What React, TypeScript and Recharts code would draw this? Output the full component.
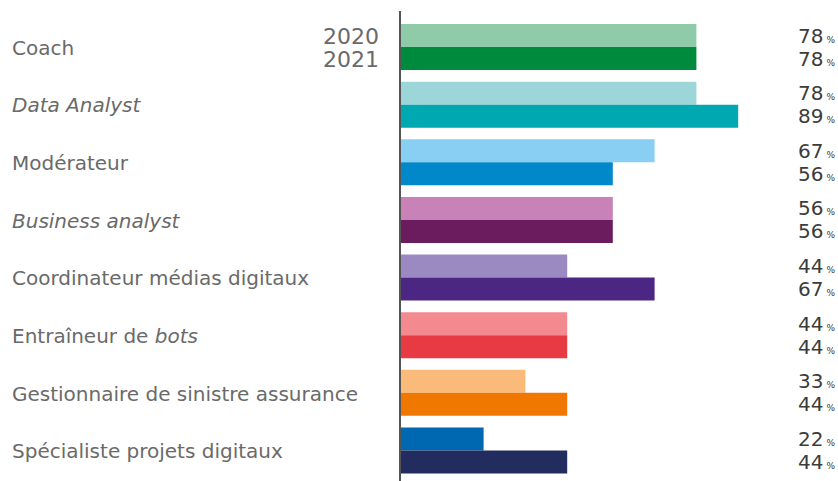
import { Bar, BarChart, Cell, LabelList, XAxis, YAxis } from "recharts";

const categories = [
  "Coach",
  "Data Analyst",
  "Modérateur",
  "Business analyst",
  "Coordinateur médias digitaux",
  "Entraîneur de bots",
  "Gestionnaire de sinistre assurance",
  "Spécialiste projets digitaux",
];
// part of each label set in italics
const italicParts = ["", "Data Analyst", "", "Business analyst", "", "bots", "", ""];
const values2020 = [78, 78, 67, 56, 44, 44, 33, 22];
const values2021 = [78, 89, 56, 56, 67, 44, 44, 44];
const years = ["2020", "2021"];
const colors2020 = ["#8fcaa9", "#9dd6d8", "#88cff3", "#c882b7", "#9b8ac1", "#f28a90", "#f9ba7a", "#0068b0"];
const colors2021 = ["#008a3d", "#00a9b1", "#0088cb", "#6b1c5e", "#4b2682", "#e83a42", "#f07800", "#232c5e"];

const data = categories.map((name, i) => ({ name, v2020: values2020[i], v2021: values2021[i] }));

const FONT = "'DejaVu Sans', sans-serif";

function CategoryTick({ y, payload }: any) {
  const label: string = payload.value;
  const it = italicParts[categories.indexOf(label)];
  const start = it ? label.indexOf(it) : -1;
  const parts =
    start < 0
      ? [{ t: label, i: false }]
      : [
          { t: label.slice(0, start), i: false },
          { t: it, i: true },
          { t: label.slice(start + it.length), i: false },
        ].filter((p) => p.t);
  return (
    <text x={12} y={y} dy={8} textAnchor="start" fill="#6a6a6a" fontSize={20} fontFamily={FONT}>
      {parts.map((p, k) => (
        <tspan key={k} fontStyle={p.i ? "italic" : "normal"} style={{ whiteSpace: "pre" }}>
          {p.t}
        </tspan>
      ))}
    </text>
  );
}

const valueLabel = (year: number) => (props: any) => {
  const { y, height, value, index, x } = props;
  const cy = y + height / 2;
  return (
    <g>
      <text x={835} y={cy + 7} textAnchor="end" fill="#3c3c3c" fontFamily={FONT}>
        <tspan fontSize={20}>{value}</tspan>
        <tspan fontSize={9} dx={3}>%</tspan>
      </text>
      {index === 0 && (
        <text x={x - 21} y={cy + 8} textAnchor="end" fill="#6a6a6a" fontSize={22} fontFamily={FONT}>
          {years[year]}
        </text>
      )}
    </g>
  );
};

export default function App() {
  return (
    <div style={{ position: "absolute", left: 0, top: 0, background: "#fff" }}>
      <BarChart
        width={838}
        height={481}
        data={data}
        layout="vertical"
        margin={{ top: 11, right: 58, bottom: 0, left: 0 }}
        barCategoryGap={6}
        barGap={0}
      >
        <XAxis type="number" domain={[0, 100]} hide />
        <YAxis
          type="category"
          dataKey="name"
          width={400}
          padding={{ top: 7, bottom: 2 }}
          axisLine={{ stroke: "#555", strokeWidth: 2 }}
          tickLine={false}
          tick={<CategoryTick />}
          interval={0}
        />
        <Bar dataKey="v2020" isAnimationActive={false}>
          {data.map((d, i) => (
            <Cell key={d.name} fill={colors2020[i]} />
          ))}
          <LabelList dataKey="v2020" content={valueLabel(0)} />
        </Bar>
        <Bar dataKey="v2021" isAnimationActive={false}>
          {data.map((d, i) => (
            <Cell key={d.name} fill={colors2021[i]} />
          ))}
          <LabelList dataKey="v2021" content={valueLabel(1)} />
        </Bar>
      </BarChart>
    </div>
  );
}
